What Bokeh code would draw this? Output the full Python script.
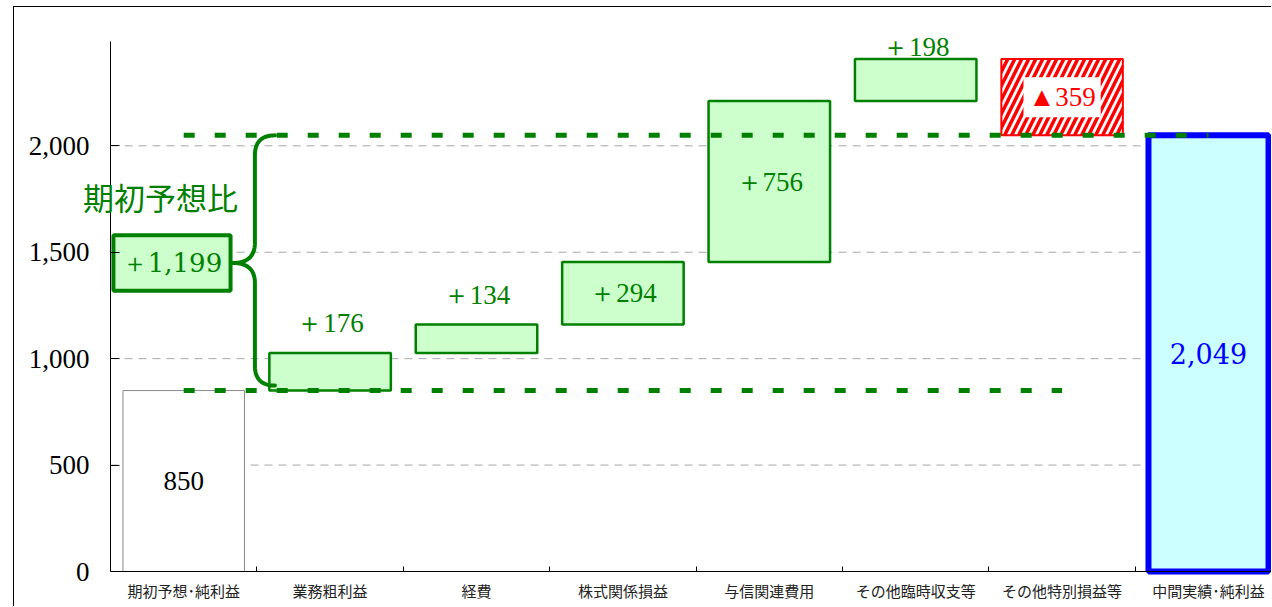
import numpy as np
from bokeh.plotting import figure
from bokeh.models import Range1d, FixedTicker, Label
from bokeh.embed import file_html
from bokeh.resources import INLINE

# ---------------- data ----------------
categories = ["期初予想･純利益", "業務粗利益", "経費", "株式関係損益",
              "与信関連費用", "その他臨時収支等", "その他特別損益等", "中間実績･純利益"]
start_value = 850
changes = [176, 134, 294, 756, 198, -359]
change_labels = ["＋176", "＋134", "＋294", "＋756", "＋198", "▲359"]
end_value = 2049
start_label = "850"
end_label = "2,049"
total_change_label = "＋1,199"
bracket_title = "期初予想比"
y_ticks = [0, 500, 1000, 1500, 2000]
y_tick_labels = ["0", "500", "1,000", "1,500", "2,000"]

# ---------------- geometry (page pixels) ----------------
FIG_LEFT, FIG_TOP = 14, 7      # content origin (margin + 1px border)
AXIS_X, AXIS_Y = 110, 571      # where the axes cross
TOP_Y = 41                     # top of the value axis
RIGHT_X, BOTTOM_Y = 1272, 607
CAT_PX = 146.4
YMAX = 2490                    # value at the top of the value axis
PX_X = CAT_PX
PX_Y = (AXIS_Y - TOP_Y) / YMAX
XMIN = -(AXIS_X - FIG_LEFT) / PX_X
XMAX = (RIGHT_X - AXIS_X) / PX_X
YMIN = -(BOTTOM_Y - AXIS_Y) / PX_Y
YTOP = YMAX + (TOP_Y - FIG_TOP) / PX_Y
BAR_W = 0.83

GREEN = "#008000"
LIGHT_GREEN = "#CCFFCC"
SERIF_PX = "27px"

p = figure(width=RIGHT_X - FIG_LEFT, height=BOTTOM_Y - FIG_TOP,
           x_range=Range1d(XMIN, XMAX), y_range=Range1d(YMIN, YTOP),
           output_backend="svg", toolbar_location=None,
           min_border_left=0, min_border_right=0, min_border_top=0,
           min_border_bottom=0, margin=(6, 0, 0, 13))
p.styles = {"border-left": "1px solid black", "border-top": "1px solid black"}
p.outline_line_color = None
p.background_fill_color = "white"
p.border_fill_color = "white"

# axes (fixed at the origin so that their labels sit inside the frame)
centers = [i + 0.5 for i in range(len(categories))]
p.xaxis.fixed_location = 0
p.xaxis.ticker = FixedTicker(ticks=centers, minor_ticks=list(range(1, len(categories))))
p.xaxis.major_label_overrides = {c: lab for c, lab in zip(centers, categories)}
p.xaxis.bounds = (0, XMAX)
p.xaxis.major_tick_line_color = None
p.xaxis.major_tick_out = 0
p.xaxis.major_tick_in = 0
p.xaxis.minor_tick_in = 5
p.xaxis.minor_tick_out = 0
p.xaxis.minor_tick_line_color = "black"
p.xaxis.major_label_text_font = "Noto Sans CJK JP"
p.xaxis.major_label_text_font_size = "15px"
p.xaxis.major_label_text_color = "#222222"
p.xaxis.major_label_standoff = 8
p.xaxis.axis_line_color = "black"

p.yaxis.fixed_location = 0
p.yaxis.bounds = (0, YMAX)
p.yaxis.ticker = FixedTicker(ticks=y_ticks)
p.yaxis.major_label_overrides = {t: lab for t, lab in zip(y_ticks, y_tick_labels)}
p.yaxis.major_tick_in = 9
p.yaxis.major_tick_out = 0
p.yaxis.minor_tick_line_color = None
p.yaxis.major_label_text_font = "Liberation Serif"
p.yaxis.major_label_text_font_size = SERIF_PX
p.yaxis.major_label_text_color = "black"
p.yaxis.major_label_standoff = 21
p.yaxis.axis_line_color = "black"

p.xgrid.grid_line_color = None
p.ygrid.grid_line_color = None

# horizontal grid lines, from the value axis to the right edge
grid_vals = [t for t in y_ticks if t > 0]
p.segment(x0=[0] * len(grid_vals), x1=[XMAX] * len(grid_vals), y0=grid_vals, y1=grid_vals,
          line_color="#A8A8A8", line_dash="8 6", line_width=1)

# ---------------- bars ----------------
p.quad(left=[centers[0] - BAR_W / 2], right=[centers[0] + BAR_W / 2], bottom=[0], top=[start_value],
       fill_color="white", line_color="#888888", line_width=1)

running = start_value
pos = dict(left=[], right=[], bottom=[], top=[])
neg = dict(left=[], right=[], bottom=[], top=[])
label_specs = []
for i, ch in enumerate(changes):
    c = centers[i + 1]
    b, t = running, running + ch
    lo, hi = min(b, t), max(b, t)
    d = pos if ch >= 0 else neg
    d["left"].append(c - BAR_W / 2)
    d["right"].append(c + BAR_W / 2)
    d["bottom"].append(lo)
    d["top"].append(hi)
    label_specs.append((c, lo, hi, change_labels[i], ch >= 0))
    running = t

p.quad(**pos, fill_color=LIGHT_GREEN, line_color=GREEN, line_width=2.5)
p.quad(**neg, fill_color="white", hatch_pattern="right_diagonal_line", hatch_color="red",
       hatch_weight=3.5, hatch_scale=14, line_color="red", line_width=2)

p.quad(left=[centers[-1] - 0.41], right=[centers[-1] + 0.41], bottom=[0], top=[end_value],
       fill_color="#CCFFFF", line_color="#0000FF", line_width=6)

# ---------------- dotted reference lines ----------------
p.line([centers[0], centers[-2]], [start_value, start_value], line_color=GREEN, line_width=5,
       line_dash="11 20")
p.line([centers[0], centers[-1]], [end_value, end_value], line_color=GREEN, line_width=5,
       line_dash="11 20")

# ---------------- brace + total box ----------------
def qbez(p0, p1, p2, n=24):
    t = np.linspace(0, 1, n)[:, None]
    p0, p1, p2 = map(np.asarray, (p0, p1, p2))
    return (1 - t) ** 2 * p0 + 2 * (1 - t) * t * p1 + t ** 2 * p2

ymid = (start_value + end_value) / 2
box_left, box_right = 0.02, 0.82
box_half_h = 130
xv = 1.0 - 2 / PX_X
xe = xv + 20 / PX_X
xt = box_right + 2 / PX_X
r = 20 / PX_Y
ytop = end_value
ybot = start_value + 5 / PX_Y
segs = [
    qbez((xe, ytop), (xv, ytop), (xv, ytop - r)),
    np.array([[xv, ymid + r]]),
    qbez((xv, ymid + r), (xv, ymid), (xt, ymid)),
    qbez((xt, ymid), (xv, ymid), (xv, ymid - r)),
    np.array([[xv, ybot + r]]),
    qbez((xv, ybot + r), (xv, ybot), (xe, ybot)),
]
path = np.vstack(segs)
p.line(path[:, 0], path[:, 1], line_color=GREEN, line_width=4, line_join="round", line_cap="round")

p.quad(left=[box_left], right=[box_right], bottom=[ymid - box_half_h], top=[ymid + box_half_h],
       fill_color=LIGHT_GREEN, line_color=GREEN, line_width=4)

# ---------------- labels ----------------
p.add_layout(Label(x=(box_left + box_right) / 2, y=ymid, text=total_change_label,
                   text_align="center", text_baseline="middle", text_font="DejaVu Serif",
                   text_font_size="26px", text_color=GREEN))
p.add_layout(Label(x=50 / PX_X, y=ymid + 312, text=bracket_title, text_align="center",
                   text_baseline="middle", text_font="Noto Sans CJK JP",
                   text_font_size="31px", text_color=GREEN))
p.add_layout(Label(x=centers[0], y=start_value / 2, text=start_label, text_align="center",
                   text_baseline="middle", text_font="Liberation Serif",
                   text_font_size=SERIF_PX, text_color="black"))
p.add_layout(Label(x=centers[-1], y=end_value / 2, text=end_label, text_align="center",
                   text_baseline="middle", text_font="DejaVu Serif",
                   text_font_size="27px", text_color="#0000FF"))

for c, lo, hi, txt, up in label_specs:
    h_px = (hi - lo) * PX_Y
    color = GREEN if up else "red"
    common = dict(x=c, text=txt, text_align="center", text_baseline="middle",
                  text_font="Liberation Serif", text_font_size=SERIF_PX, text_color=color)
    if h_px < 50:
        y = min(hi + 30 / PX_Y, YMAX - 5 / PX_Y)
        p.add_layout(Label(y=y, **common))
    elif up:
        p.add_layout(Label(y=(lo + hi) / 2, **common))
    else:
        p.add_layout(Label(y=(lo + hi) / 2, background_fill_color="white", padding=5, **common))

open("out.html", "w").write(file_html(p, INLINE))
